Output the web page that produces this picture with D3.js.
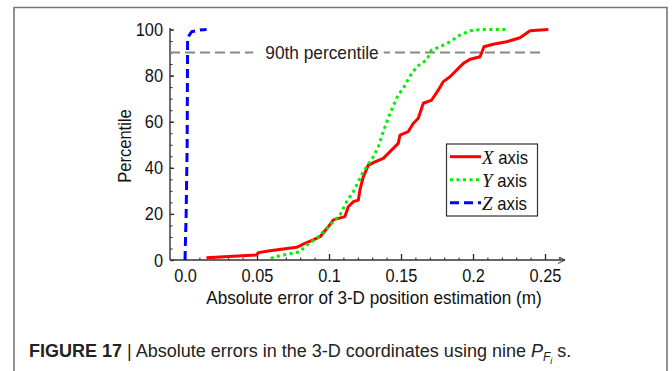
<!DOCTYPE html>
<html>
<head>
<meta charset="utf-8">
<script src="https://cdn.jsdelivr.net/npm/d3@7"></script>
<style>
  html, body { margin: 0; padding: 0; background: #fff; }
  svg { display: block; }
  .sans { font-family: "Liberation Sans", Arial, Helvetica, sans-serif; }
</style>
</head>
<body>
<svg id="chart" width="672" height="371"></svg>
<script>
// Cumulative error distributions (absolute error in m, percentile)
const xAxisErr = [0.0149, 0.0498, 0.0509, 0.059, 0.0775, 0.0833, 0.0891, 0.0938, 0.0995, 0.103, 0.111, 0.1134, 0.1169, 0.1204, 0.1215, 0.1238, 0.1273, 0.1319, 0.1377, 0.1424, 0.1481, 0.1493, 0.155, 0.1586, 0.162, 0.1655, 0.1713, 0.176, 0.1794, 0.184, 0.1933, 0.198, 0.2049, 0.2076, 0.214, 0.2234, 0.2326, 0.2396, 0.2523];
const xAxisPct = [1.0, 2.2, 3.2, 4.0, 5.5, 7.2, 8.7, 10.1, 14.4, 17.4, 18.8, 23.1, 25.3, 26.0, 30.4, 36.1, 41.2, 42.6, 44.1, 47.0, 50.6, 54.2, 55.7, 59.3, 61.5, 68.0, 69.4, 73.8, 77.4, 79.5, 85.3, 87.1, 88.2, 92.5, 93.6, 94.7, 96.4, 99.5, 100];

const yAxisErr = [0.0595, 0.066, 0.0799, 0.0845, 0.0915, 0.1007, 0.1076, 0.1123, 0.1169, 0.1238, 0.1308, 0.1343, 0.1377, 0.1424, 0.148, 0.1516, 0.156, 0.161, 0.1678, 0.1713, 0.177, 0.184, 0.191, 0.198, 0.207, 0.2245];
const yAxisPct = [0.7, 1.9, 3.6, 6.5, 9.4, 15.2, 19.5, 25.3, 29.6, 38.3, 44.8, 49.2, 55.7, 63.6, 71.6, 74.5, 79.5, 83.9, 86.8, 91.1, 92.5, 94.7, 97.6, 99.5, 100, 100];

const zAxisErr = [0.0, 0.0008, 0.0015, 0.0017, 0.0018, 0.0046, 0.0104, 0.015];
const zAxisPct = [0, 20, 50, 80, 96.5, 99, 99.8, 100];

const seriesNames = ["X", "Y", "Z"];
const xTickValues = [0, 0.05, 0.1, 0.15, 0.2, 0.25];
const xTickLabels = ["0.0", "0.05", "0.1", "0.15", "0.2", "0.25"];
const yTickValues = [0, 20, 40, 60, 80, 100];
const refPercentile = 90;
const refLabel = "90th percentile";
const refEnd = 0.2477;

const svg = d3.select("#chart");

// Squeeze text horizontally to get a condensed face
function condense(sel, k) {
  sel.each(function () {
    const len = this.getComputedTextLength();
    d3.select(this).attr("textLength", len * k).attr("lengthAdjust", "spacingAndGlyphs");
  });
}

// Figure frame (open at the bottom)
svg.append("path")
  .attr("d", "M14,371 L14,7.5 L667,7.5 L667,371")
  .attr("fill", "none").attr("stroke", "#777").attr("stroke-width", 1.6);

const x = d3.scaleLinear().domain([0, 0.25]).range([185, 545]);
const y = d3.scaleLinear().domain([0, 100]).range([260, 29.5]);
const axisX0 = 170, axisX1 = 565;

// Arrow head for the horizontal axis
svg.append("defs").append("marker")
  .attr("id", "arrow").attr("viewBox", "0 0 10 10")
  .attr("refX", 10).attr("refY", 5)
  .attr("markerWidth", 7).attr("markerHeight", 7)
  .attr("markerUnits", "userSpaceOnUse")
  .attr("orient", "auto")
  .append("path").attr("d", "M0,0 L10,5 L0,10")
  .attr("fill", "none").attr("stroke", "#333").attr("stroke-width", 1.4);

// Minor ticks
svg.append("g").attr("transform", `translate(0,${y(0)})`)
  .call(d3.axisBottom(x).tickValues(d3.range(0, 0.2601, 0.01)).tickSize(-2.5).tickFormat(""))
  .call(g => g.select(".domain").remove())
  .call(g => g.selectAll("line").attr("stroke", "#222"));
svg.append("g").attr("transform", `translate(${axisX0},0)`)
  .call(d3.axisLeft(y).tickValues(d3.range(0, 100.1, 5)).tickSize(-2.5).tickFormat(""))
  .call(g => g.select(".domain").remove())
  .call(g => g.selectAll("line").attr("stroke", "#222"));

// Major ticks and labels
const gx = svg.append("g").attr("transform", `translate(0,${y(0)})`)
  .call(d3.axisBottom(x).tickValues(xTickValues).tickSize(-6).tickPadding(9)
    .tickFormat((d, i) => xTickLabels[i]));
gx.select(".domain").remove();
gx.selectAll("line").attr("stroke", "#222").attr("stroke-width", 1.3);
gx.selectAll("text").attr("class", "sans").attr("font-size", 19).attr("fill", "#111")
  .call(condense, 0.86);

const gy = svg.append("g").attr("transform", `translate(${axisX0},0)`)
  .call(d3.axisLeft(y).tickValues(yTickValues).tickSize(-4).tickPadding(7));
gy.select(".domain").remove();
gy.selectAll("line").attr("stroke", "#222").attr("stroke-width", 1.3);
gy.selectAll("text").attr("class", "sans").attr("font-size", 19).attr("fill", "#111")
  .call(condense, 0.86);

// Axis lines
svg.append("line").attr("x1", axisX0).attr("x2", axisX1)
  .attr("y1", y(0)).attr("y2", y(0))
  .attr("stroke", "#333").attr("stroke-width", 1.4).attr("marker-end", "url(#arrow)");
svg.append("line").attr("x1", axisX0).attr("x2", axisX0)
  .attr("y1", y(0)).attr("y2", y(100) - 1.5)
  .attr("stroke", "#333").attr("stroke-width", 1.4);

// 90th percentile reference line with a gap for its label
svg.append("line").attr("x1", axisX0).attr("x2", x(refEnd))
  .attr("y1", y(refPercentile)).attr("y2", y(refPercentile))
  .attr("stroke", "#888").attr("stroke-width", 2).attr("stroke-dasharray", "10,5");
const refBg = svg.append("rect").attr("fill", "#fff");
const refText = svg.append("text").attr("class", "sans")
  .attr("x", 322).attr("y", y(refPercentile)).attr("dy", "0.35em")
  .attr("text-anchor", "middle").attr("font-size", 19).attr("fill", "#222")
  .text(refLabel)
  .call(condense, 0.91);
const refW = +refText.attr("textLength");
refBg.attr("x", 322 - refW / 2 - 12).attr("y", y(refPercentile) - 8)
  .attr("width", refW + 17).attr("height", 16);

// Curves
const line = d3.line().x(d => x(d[0])).y(d => y(d[1]));
const series = [
  { name: seriesNames[0], err: xAxisErr, pct: xAxisPct, color: "#ff0000", dash: null },
  { name: seriesNames[1], err: yAxisErr, pct: yAxisPct, color: "#00ee00", dash: "3,3.5" },
  { name: seriesNames[2], err: zAxisErr, pct: zAxisPct, color: "#0000ff", dash: "9,5" }
];
series.forEach(s => {
  svg.append("path")
    .datum(s.err.map((e, i) => [e, s.pct[i]]))
    .attr("d", line)
    .attr("fill", "none").attr("stroke", s.color).attr("stroke-width", 3)
    .attr("stroke-dasharray", s.dash)
    .attr("stroke-linejoin", "round");
});

// Legend
const legend = svg.append("g");
legend.append("rect").attr("x", 446.5).attr("y", 144).attr("width", 91).attr("height", 72)
  .attr("fill", "#fff").attr("stroke", "#333").attr("stroke-width", 1.2);
series.forEach((s, i) => {
  const ly = 156.7 + i * 23;
  legend.append("line").attr("x1", 450).attr("x2", 481).attr("y1", ly).attr("y2", ly)
    .attr("stroke", s.color).attr("stroke-width", 3).attr("stroke-dasharray", s.dash);
  const t = legend.append("text").attr("x", 482).attr("y", ly).attr("dy", "0.36em")
    .attr("font-size", 19).attr("fill", "#111");
  t.append("tspan").attr("font-family", "'Liberation Serif', 'Times New Roman', serif")
    .attr("font-style", "italic").text(s.name);
  t.append("tspan").attr("class", "sans").text(" axis").call(condense, 0.88);
});

// Axis titles
svg.append("text").attr("class", "sans")
  .attr("x", 374).attr("y", 304).attr("text-anchor", "middle")
  .attr("font-size", 19).attr("fill", "#111")
  .text("Absolute error of 3-D position estimation (m)")
  .call(condense, 0.9);
svg.append("text").attr("class", "sans")
  .attr("transform", "translate(131,146) rotate(-90)").attr("text-anchor", "middle")
  .attr("font-size", 19).attr("fill", "#111")
  .text("Percentile")
  .call(condense, 0.87);

// Caption
const cap = svg.append("text").attr("class", "sans")
  .attr("x", 29).attr("y", 357).attr("font-size", 18).attr("fill", "#222");
cap.append("tspan").attr("font-weight", "bold").text("FIGURE 17");
cap.append("tspan").text(" | Absolute errors in the 3-D coordinates using nine ");
cap.append("tspan").attr("font-style", "italic").text("P");
cap.append("tspan").attr("font-style", "italic").attr("font-size", 12).attr("dy", 4).text("F");
cap.append("tspan").attr("font-style", "italic").attr("font-size", 9).attr("dy", 3).text("i");
cap.append("tspan").attr("dy", -7).text(" s.");
</script>
</body>
</html>
